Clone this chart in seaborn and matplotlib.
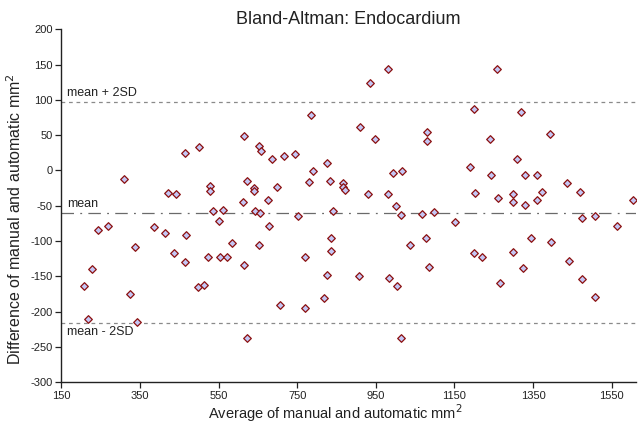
import matplotlib
matplotlib.use("Agg")
import matplotlib.pyplot as plt
import seaborn as sns
import pandas as pd

average = [309, 422, 442, 465, 501, 528, 528, 614, 622, 536, 561, 612, 244, 268, 387, 414,
           468, 552, 338, 584, 438, 522, 555, 572, 465, 615, 229, 208, 324, 498, 512, 219,
           342, 623,
           980, 934, 785, 910, 947, 1079, 1079, 653, 658, 687, 717, 745, 826, 791, 641, 639,
           699, 780, 834, 867, 867, 871, 994, 1016, 931, 980, 677, 1001, 644, 656, 753, 840,
           1015, 1068, 679, 652, 837, 837, 1037, 1078, 770, 826, 906, 983, 1005, 1086, 818,
           707, 770, 1013,
           1259, 1199, 1319, 1240, 1392, 1308, 1189, 1242, 1330, 1359, 1435, 1468, 1202, 1300,
           1373, 1261, 1361, 1605, 1300, 1330, 1099, 1151, 1474, 1507, 1563, 1345, 1395, 1199,
           1221, 1300, 1324, 1440, 1265, 1475, 1507]
difference = [-12, -32, -34, 25, 33, -22, -29, 49, -15, -58, -56, -45, -84, -79, -80, -88,
              -91, -71, -108, -103, -117, -122, -122, -123, -129, -134, -139, -163, -175, -165,
              -162, -210, -214, -238,
              144, 124, 78, 61, 44, 54, 42, 34, 27, 16, 20, 23, 11, -1, -25, -29,
              -24, -17, -15, -18, -24, -27, -4, -1, -33, -33, -42, -50, -58, -60, -64, -58,
              -63, -62, -79, -105, -95, -114, -106, -95, -122, -148, -149, -153, -164, -137, -181,
              -191, -195, -238,
              144, 87, 83, 45, 51, 16, 5, -6, -6, -6, -18, -30, -32, -33,
              -30, -39, -42, -42, -45, -49, -59, -73, -67, -64, -79, -95, -101, -117,
              -123, -115, -138, -128, -159, -154, -179]

mean_diff = -60
upper_limit = 96.6
lower_limit = -216.6
limit_labels = ["mean + 2SD", "mean", "mean - 2SD"]

df = pd.DataFrame({"avg": average, "diff": difference})

sns.set_theme(style="white")
plt.rcParams["font.family"] = ["Liberation Sans", "DejaVu Sans"]
plt.rcParams["axes.unicode_minus"] = False

fig = plt.figure(figsize=(6.41, 4.30), dpi=100)
ax = fig.add_axes([0.0955, 0.111, 0.897, 0.821])

sns.scatterplot(data=df, x="avg", y="diff", marker="D", s=15,
                color="#c4c6f4", edgecolor="#8b1010", linewidth=0.9, ax=ax, zorder=3)

ax.axhline(upper_limit, color="#8a8a8a", lw=0.9, ls=(0, (3, 3)), zorder=1)
ax.axhline(mean_diff, color="#6a6a6a", lw=0.9, ls=(0, (10, 5, 1.5, 5)), zorder=1)
ax.axhline(lower_limit, color="#8a8a8a", lw=0.9, ls=(0, (3, 3)), zorder=1)

ax.text(165, upper_limit + 4, limit_labels[0], fontsize=9, color="#222222", va="bottom")
ax.text(165, mean_diff + 4, limit_labels[1], fontsize=9, color="#222222", va="bottom")
ax.text(165, lower_limit - 4, limit_labels[2], fontsize=9, color="#222222", va="top")

ax.set_xlim(150, 1612)
ax.set_ylim(-300, 200)
ax.set_xticks(range(150, 1551, 200))
ax.set_yticks(range(-300, 201, 50))
ax.tick_params(axis="both", labelsize=8, length=4, width=0.9, direction="out",
               bottom=True, left=True, colors="#222222", pad=2)

for side in ["top", "right"]:
    ax.spines[side].set_visible(False)
for side in ["left", "bottom"]:
    ax.spines[side].set_color("#222222")
    ax.spines[side].set_linewidth(1.0)

ax.set_xlabel("Average of manual and automatic mm$^{2}$", fontsize=10.5, color="#222222", labelpad=1)
ax.xaxis.label.set_x(0.477)
ax.set_ylabel("Difference of manual and automatic mm$^{2}$", fontsize=11.5, color="#222222")
ax.yaxis.set_label_coords(-0.064, 0.462)
ax.set_title("Bland-Altman: Endocardium", fontsize=13, color="#222222", pad=4)

fig.savefig("out.png", dpi=100)
